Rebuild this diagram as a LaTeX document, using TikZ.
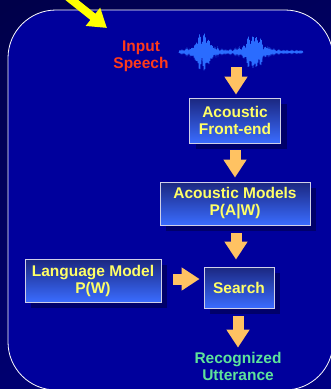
\documentclass[tikz,border=0pt]{standalone}
\usepackage{fontspec}
\setmainfont{Liberation Sans}
\usetikzlibrary{arrows.meta,shadows}
\definecolor{bgdark}{HTML}{00004A}
\definecolor{bgmid}{HTML}{000082}
\definecolor{panel}{HTML}{00009C}
\definecolor{boxtop}{HTML}{1B2780}
\definecolor{boxbottom}{HTML}{3A6CFF}
\definecolor{boxline}{HTML}{D0D0E8}
\definecolor{boxshadow}{HTML}{00006A}
\definecolor{boxtext}{HTML}{FFFF66}
\definecolor{flowarrow}{HTML}{FFC262}
\definecolor{speechred}{HTML}{FF3A1A}
\definecolor{uttgreen}{HTML}{5EE39A}
\definecolor{wavecol}{HTML}{2A6CFF}
\definecolor{pointeryellow}{HTML}{FFFF00}
\tikzset{
    label font/.style={font=\fontsize{15.5}{17}\selectfont\bfseries, align=center, inner sep=0pt},
    box/.style={label font, draw=boxline, line width=0.8pt, top color=boxtop, bottom color=boxbottom,
        text=boxtext, drop shadow={shadow xshift=6pt, shadow yshift=-6pt, fill=boxshadow, opacity=1}},
    flow/.style={line width=11pt, flowarrow, -{Triangle[width=22pt,length=18pt]}},
    declare function={env(\t)=18/(1+min(abs(\t-203)/8,5)^4)+17/(1+min(abs(\t-254)/9,5)^4)+0.8;}
}
\begin{document}
\begin{tikzpicture}[x=1pt,y=-1pt]
    \useasboundingbox (0,0) rectangle (331,389);
    \clip (0,0) rectangle (331,389);
    \shade[top color=bgdark, bottom color=bgmid, shading angle=30] (-60,-60) rectangle (391,449);
    \draw[white, line width=0.8pt, fill=panel, rounded corners=48pt] (8,10) rectangle (333,390);

    \node[label font, text=speechred] (input) at (141,56) {Input\\Speech};
    \draw[wavecol, line width=0.8pt] plot[domain=179:303, samples=249]
        (\x, {52 + env(\x)*(0.25+0.45*abs(sin(41*\x))+0.3*abs(cos(29*\x)))*(1-2*mod(round(2*\x),2))});

    \node[box, minimum width=91pt, minimum height=45pt] (front) at (235,120.5) {Acoustic\\Front-end};
    \node[box, minimum width=150pt, minimum height=43pt] (am) at (235,203.5) {Acoustic Models\\P(A|W)};
    \node[box, minimum width=136pt, minimum height=43pt] (lm) at (93,280.5) {Language Model\\P(W)};
    \node[box, minimum width=70pt, minimum height=41pt] (search) at (239,287.5) {Search};
    \node[label font, text=uttgreen] (out) at (238,366) {Recognized\\Utterance};

    \coordinate (speech) at (236,67);
    \coordinate (pointer) at (68,-3);
    \coordinate (pointertip) at (107,28);

    \draw[line width=8pt, pointeryellow, -{Triangle[width=22pt,length=18pt]}] (pointer) -- (pointertip);
    \draw[flow, shorten >=3pt] (speech) -- (speech |- front.north);
    \draw[flow, shorten <=7pt, shorten >=4pt] (front.south) -- (am.north);
    \draw[flow, shorten <=8pt, shorten >=7pt] ([xshift=1pt]am.south) -- ([xshift=1pt]am.south |- search.north);
    \draw[flow, shorten <=12pt, shorten >=4pt] ([yshift=1.5pt]lm.east) -- ([yshift=1.5pt]lm.east -| search.west);
    \draw[flow, shorten <=8pt, shorten >=4pt] ([xshift=-1pt]search.south) -- ([xshift=-1pt]search.south |- out.north);
\end{tikzpicture}
\end{document}
